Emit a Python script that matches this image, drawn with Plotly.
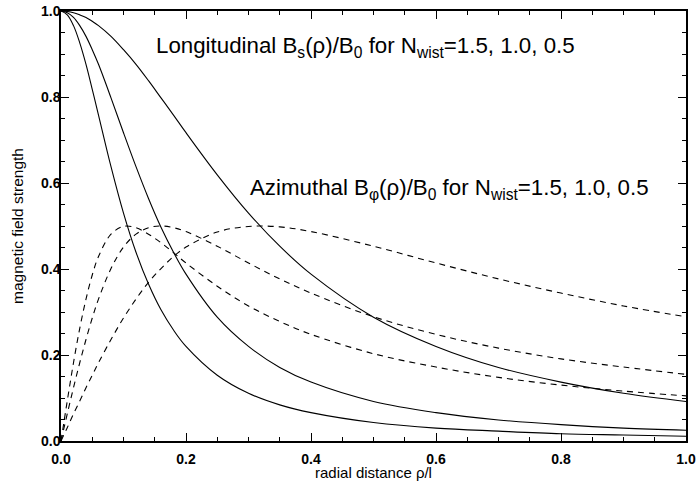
import plotly.graph_objects as go

rho = [0.0, 0.01, 0.02, 0.03, 0.04, 0.05, 0.06, 0.08, 0.10, 0.12, 0.14, 0.16, 0.18,
       0.20, 0.25, 0.30, 0.35, 0.40, 0.50, 0.60, 0.70, 0.80, 0.90, 1.00]

# Longitudinal Bs/B0 for Nwist = 1.5, 1.0, 0.5
bs_15 = [1.0, 0.991, 0.966, 0.926, 0.876, 0.818, 0.758, 0.638, 0.530, 0.439, 0.365, 0.305, 0.258,
         0.220, 0.153, 0.111, 0.084, 0.066, 0.043, 0.030, 0.023, 0.017, 0.014, 0.011]
bs_10 = [1.0, 0.996, 0.985, 0.966, 0.941, 0.910, 0.876, 0.798, 0.717, 0.638, 0.564, 0.497, 0.439,
         0.388, 0.288, 0.220, 0.171, 0.137, 0.092, 0.066, 0.049, 0.038, 0.030, 0.025]
bs_05 = [1.0, 0.999, 0.996, 0.991, 0.985, 0.976, 0.966, 0.941, 0.910, 0.876, 0.838, 0.798, 0.758,
         0.717, 0.619, 0.530, 0.453, 0.388, 0.288, 0.220, 0.171, 0.137, 0.111, 0.092]

# Azimuthal Bphi/B0 for Nwist = 1.5, 1.0, 0.5
bp_15 = [0.0, 0.093, 0.182, 0.262, 0.330, 0.386, 0.429, 0.481, 0.499, 0.496, 0.481, 0.461, 0.438,
         0.414, 0.360, 0.314, 0.278, 0.248, 0.203, 0.172, 0.148, 0.130, 0.116, 0.105]
bp_10 = [0.0, 0.063, 0.124, 0.182, 0.236, 0.286, 0.330, 0.401, 0.451, 0.481, 0.496, 0.500, 0.496,
         0.487, 0.453, 0.414, 0.377, 0.344, 0.289, 0.248, 0.216, 0.191, 0.172, 0.155]
bp_05 = [0.0, 0.031, 0.063, 0.093, 0.124, 0.153, 0.182, 0.236, 0.286, 0.330, 0.369, 0.401, 0.429,
         0.451, 0.486, 0.499, 0.498, 0.487, 0.453, 0.414, 0.377, 0.344, 0.314, 0.289]

fig = go.Figure()
for ys in (bs_15, bs_10, bs_05):
    fig.add_trace(go.Scatter(x=rho, y=ys, mode="lines", line=dict(color="black", width=1.1, shape="spline"),
                             showlegend=False, hoverinfo="skip"))
for ys in (bp_15, bp_10, bp_05):
    fig.add_trace(go.Scatter(x=rho, y=ys, mode="lines",
                             line=dict(color="black", width=1.1, shape="spline", dash="6px,5px"),
                             showlegend=False, hoverinfo="skip"))

axis_common = dict(
    showline=True, linecolor="black", linewidth=1.5, mirror="ticks",
    ticks="inside", ticklen=8, tickwidth=1, tickcolor="black",
    showgrid=False, zeroline=False, automargin=False, ticklabeloverflow="allow",
    tickfont=dict(family="Liberation Sans, Arial", size=14, color="black", weight="bold"),
    minor=dict(ticks="inside", ticklen=4, tickwidth=1, tickcolor="black", dtick=0.05, showgrid=False),
    dtick=0.2, tickformat=".1f",
)

fig.update_layout(
    width=697, height=481,
    margin=dict(l=61, r=11, t=11, b=40),
    paper_bgcolor="white", plot_bgcolor="white",
    font=dict(family="Liberation Sans, Arial", color="black"),
    xaxis=dict(range=[0, 1], ticklabelstandoff=4,
               title=dict(text="radial distance ρ/l", font=dict(size=15), standoff=0),
               **axis_common),
    yaxis=dict(range=[0, 1], ticklabelstandoff=-4,
               title=dict(text="magnetic field strength", font=dict(size=15.5), standoff=14),
               **axis_common),
)

fig.add_annotation(
    xref="x", yref="y", x=(365.5 - 61) / 625, y=(441 - 46.5) / 430,
    text="Longitudinal B<sub>s</sub>(ρ)/B<sub>0</sub> for N<sub>wist</sub>=1.5, 1.0, 0.5",
    showarrow=False, font=dict(size=22.3, family="Liberation Sans, Arial"), xanchor="center", yanchor="middle",
)
fig.add_annotation(
    xref="x", yref="y", x=(449.5 - 61) / 625, y=(441 - 188.5) / 430,
    text="Azimuthal B<sub>φ</sub>(ρ)/B<sub>0</sub> for N<sub>wist</sub>=1.5, 1.0, 0.5",
    showarrow=False, font=dict(size=22.3, family="Liberation Sans, Arial"), xanchor="center", yanchor="middle",
)

# remove the browser's default 8px page margin so the figure fills the 697x481 window exactly
fig.write_html("out.html", config={"displayModeBar": False},
               post_script="document.body.style.margin='0';document.documentElement.style.overflow='hidden';")
